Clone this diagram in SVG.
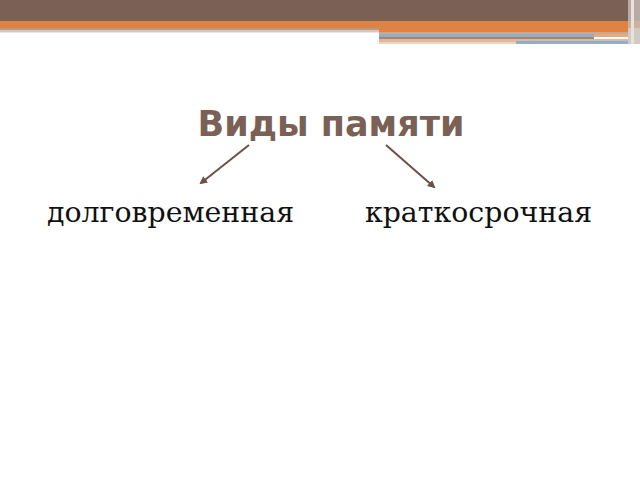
<svg xmlns="http://www.w3.org/2000/svg" width="640" height="480" viewBox="0 0 640 480">
<style>
.title{font-family:"DejaVu Sans",sans-serif;font-weight:bold;font-size:35px;fill:#7a6055}
.lbl{font-family:"DejaVu Serif",serif;font-size:28.4px;fill:#111}
.arr{stroke:#6b5048;stroke-width:2;fill:none}
</style>
<defs>
<marker id="ah" markerWidth="8" markerHeight="8" refX="6" refY="4" orient="auto" markerUnits="userSpaceOnUse">
<path d="M0,0 L8,4 L0,8 z" fill="#6b5048"/>
</marker>
</defs>
<rect width="640" height="480" fill="#fff"/>
<g id="banner">
<rect x="0" y="0" width="640" height="21" fill="#7a6055"/>
<rect x="0" y="21" width="640" height="7" fill="#df8244"/>
<rect x="0" y="28" width="379" height="2" fill="#b89a85"/>
<rect x="0" y="30" width="379" height="2" fill="#d9c7bb"/>
<rect x="0" y="32" width="379" height="1" fill="#ebe6ea"/>
<rect x="379" y="28" width="249" height="4" fill="#df8244"/>
<rect x="379" y="32" width="249" height="2" fill="#c9a890"/>
<rect x="379" y="34" width="215" height="3" fill="#8fb0cc"/>
<rect x="594" y="34" width="34" height="3" fill="#e3aa85"/>
<rect x="379" y="37" width="215" height="2" fill="#a88470"/>
<rect x="379" y="39" width="249" height="3" fill="#e3b79a"/>
<rect x="379" y="42" width="137" height="2" fill="#eed4c4"/>
<rect x="516" y="41" width="112" height="3" fill="#8fb0cc"/>
<rect x="628" y="0" width="12" height="44" fill="#c8bdb8" opacity="0.8"/>
<rect x="631" y="0" width="3" height="44" fill="#e8e2df"/>
</g>
<g id="title">
<text class="title" x="331" y="136" text-anchor="middle">Виды памяти</text>
</g>
<g id="connectors">
<line class="arr" x1="249" y1="145" x2="201" y2="183" marker-end="url(#ah)"/>
<line class="arr" x1="386" y1="145" x2="434" y2="187" marker-end="url(#ah)"/>
</g>
<g id="node-long">
<text class="lbl" x="170.5" y="222" text-anchor="middle">долговременная</text>
</g>
<g id="node-short">
<text class="lbl" x="478.5" y="222" text-anchor="middle">краткосрочная</text>
</g>
</svg>
